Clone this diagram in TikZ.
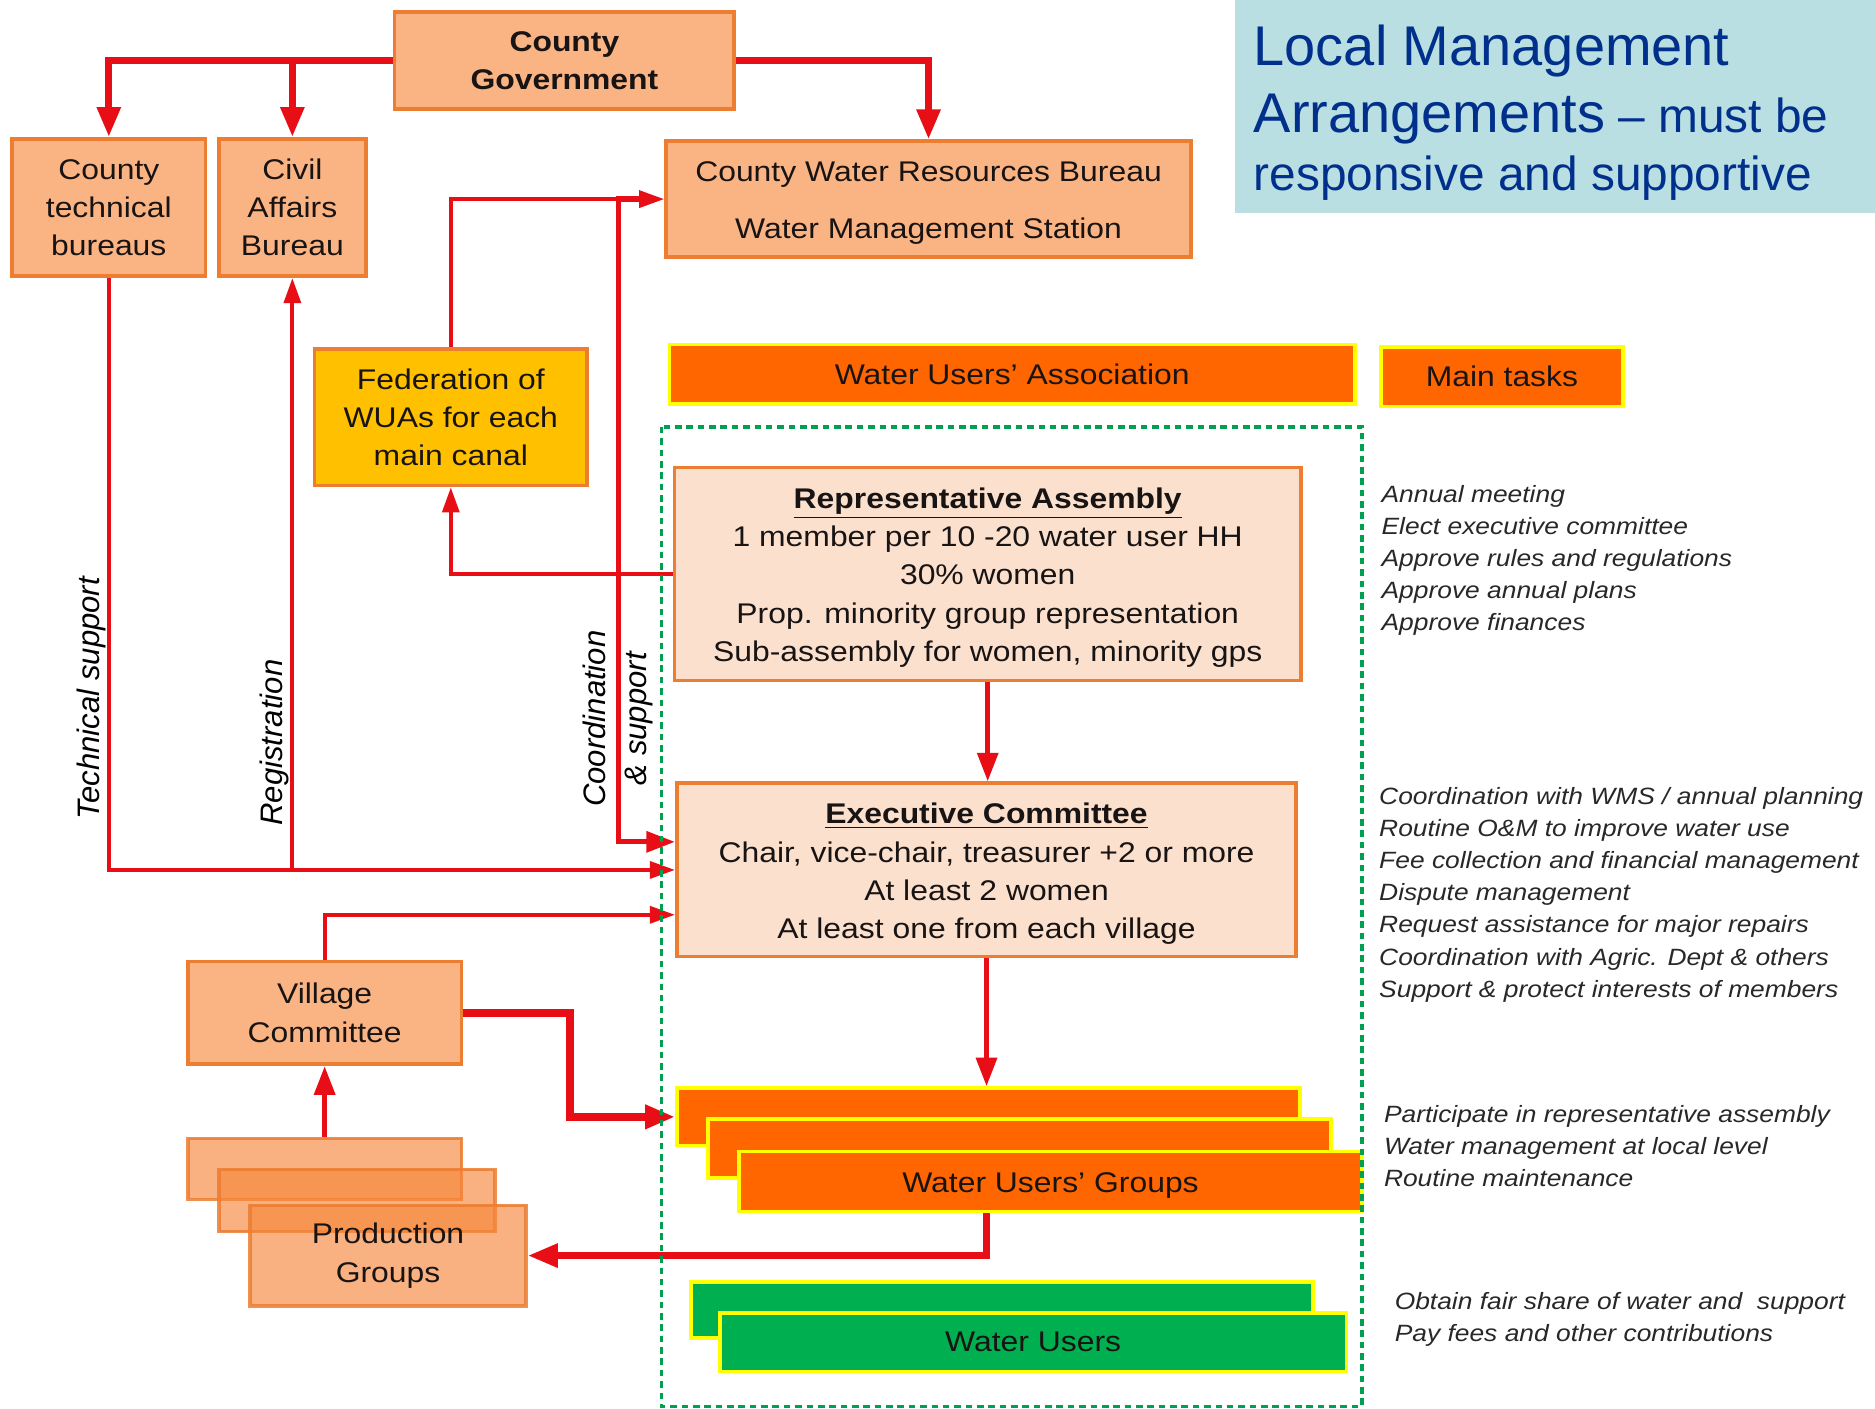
\documentclass[tikz,border=0pt]{standalone}
\usepackage{fontspec}
\setmainfont{Liberation Sans}
\newfontfamily\dfont[FakeStretch=1.12]{Liberation Sans}
\usetikzlibrary{arrows.meta,calc}
\definecolor{boxfill}{RGB}{250,180,132}
\definecolor{boxline}{RGB}{237,125,49}
\definecolor{peach}{RGB}{252,224,206}
\definecolor{gold}{RGB}{255,192,0}
\definecolor{barorange}{RGB}{255,102,0}
\definecolor{baryellow}{RGB}{255,255,0}
\definecolor{bargreen}{RGB}{0,176,80}
\definecolor{conred}{RGB}{232,14,22}
\definecolor{dotgreen}{RGB}{0,160,80}
\definecolor{titlebg}{RGB}{186,223,227}
\definecolor{titleblue}{RGB}{0,48,140}
\definecolor{txt}{RGB}{25,20,20}
\definecolor{tasktxt}{RGB}{40,40,40}
\definecolor{pgfill}{RGB}{247,134,58}
\begin{document}
\begin{tikzpicture}[x=0.5pt,y=-0.5pt,
  boxtext/.style={font=\dfont\fontsize{11.9}{16}\selectfont, text=txt, align=center, inner sep=0pt},
  obox/.style={boxtext, draw=boxline, line width=1.5pt, fill=boxfill},
  pbox/.style={boxtext, draw=boxline, line width=1.5pt, fill=peach},
  fbox/.style={boxtext, draw=boxline, line width=1.5pt, fill=gold},
  ybar/.style={boxtext, draw=baryellow, line width=1.5pt, fill=barorange},
  gbar/.style={boxtext, draw=baryellow, line width=1.5pt, fill=bargreen},
  pgbox/.style={boxtext, draw=boxline, draw opacity=0.85, line width=1.5pt, fill=pgfill, fill opacity=0.64, text opacity=1},
  tasks/.style={font=\dfont\itshape\fontsize{9.85}{13.4}\selectfont, text=tasktxt, align=left, inner sep=0pt, anchor=base west},
  vlabel/.style={font=\itshape\fontsize{13}{17}\selectfont, text=black, align=center, rotate=90, inner sep=0pt},
  conthin/.style={draw=conred, line width=1.7pt, -{Triangle[length=10.5pt,width=7pt]}},
  conmid/.style={draw=conred, line width=2.2pt, -{Triangle[length=12pt,width=8.5pt]}},
  conthick/.style={draw=conred, line width=2.8pt, -{Triangle[length=12.5pt,width=9.5pt]}},
  titletext/.style={text=titleblue, inner sep=0pt, anchor=base west}
]
\fill[white] (0,0) rectangle (1568,1178);
\useasboundingbox (0,0) rectangle (1568,1178);

% title
\node[fill=titlebg, minimum width=268pt, minimum height=89pt, inner sep=0pt, anchor=north west] (TB) at (1032,0) {};
\node[titletext, font=\fontsize{23.4}{28}\selectfont] (t1) at (1048,55) {Local Management};
\node[titletext] (t2) at (1048,110.5) {\fontsize{23.4}{28}\selectfont Arrangements\fontsize{20}{24}\selectfont{} – must be};
\node[titletext, font=\fontsize{20}{24}\selectfont] (t3) at (1048,159) {responsive and supportive};

% government boxes
\node[obox, font=\dfont\bfseries\fontsize{11.9}{16}\selectfont, minimum width=142pt, minimum height=40.5pt] (CG) at (472,50.5) {County\\Government};
\node[obox, minimum width=81pt, minimum height=57.5pt] (CTB) at (91,173.5) {County\\technical\\bureaus};
\node[obox, minimum width=61.5pt, minimum height=57.5pt] (CAB) at (244.5,173.5) {Civil\\Affairs\\Bureau};
\node[obox, font=\dfont\fontsize{11.9}{24}\selectfont, minimum width=219.5pt, minimum height=48.5pt] (WRB) at (776.5,166.5) {\rule{0pt}{11.5pt}County Water Resources Bureau\\Water Management Station};
\node[fbox, minimum width=114pt, minimum height=57pt] (Fed) at (377,349) {Federation of\\WUAs for each\\main canal};

% WUA
\node[ybar, minimum width=286.5pt, minimum height=25pt] (WUA) at (846.5,313) {Water Users’ Association};
\node[ybar, minimum width=101pt, minimum height=25pt] (MT) at (1256,315) {Main tasks};

\node[pbox, minimum width=262pt, minimum height=89pt] (RA) at (826,480) {\rule{0pt}{11.5pt}\underline{\textbf{Representative Assembly}}\\1 member per 10 -20 water user HH\\30\% women\\Prop. minority group representation\\Sub-assembly for women, minority gps};
\node[pbox, minimum width=259pt, minimum height=72.5pt] (EC) at (825,727.5) {\rule{0pt}{12pt}\underline{\textbf{Executive Committee}}\\Chair, vice-chair, treasurer +2 or more\\At least 2 women\\At least one from each village};

\node[ybar, minimum width=260.5pt, minimum height=24pt] (WUG1) at (826.5,934) {};
\node[ybar, minimum width=260.5pt, minimum height=24.5pt] (WUG2) at (852.5,960.5) {};
\node[ybar, minimum width=260.5pt, minimum height=25pt] (WUG3) at (878.5,988) {\rule{0pt}{11.5pt}Water Users’ Groups};

\node[gbar, minimum width=260pt, minimum height=23.5pt] (WU1) at (838,1095.5) {};
\node[gbar, minimum width=262pt, minimum height=24.5pt] (WU2) at (864,1122.5) {Water Users};

% village and production
\node[obox, minimum width=114.5pt, minimum height=43pt] (VC) at (271.5,847) {Village\\Committee};
\node[pgbox, minimum width=114.5pt, minimum height=25.5pt] (PG1) at (271.5,977.5) {};
\node[pgbox, minimum width=115.5pt, minimum height=26pt] (PG2) at (298.5,1004) {};
\node[pgbox, minimum width=115.5pt, minimum height=42pt] (PG3) at (324.5,1050) {Production\\Groups};

% tasks text (anchored at the baseline of the last line)
\node[tasks] (tRA) at (1155,527.2) {Annual meeting\\Elect executive committee\\Approve rules and regulations\\Approve annual plans\\Approve finances};
\node[tasks] (tEC) at (1153,833.8) {Coordination with WMS / annual planning\\Routine O\&M to improve water use\\Fee collection and financial management\\Dispute management\\Request assistance for major repairs\\Coordination with Agric. Dept \& others\\Support \& protect interests of members};
\node[tasks] (tWUG) at (1157,992.6) {Participate in representative assembly\\Water management at local level\\Routine maintenance};
\node[tasks] (tWU) at (1166,1121.8) {Obtain fair share of water and\ \ support\\Pay fees and other contributions};

% vertical labels
\node[vlabel] (lTS) at (76.5,584) {Technical support};
\node[vlabel] (lR) at (229.6,621) {Registration};
\node[vlabel] (lCS) at (517,601) {Coordination\\\& support};

% connectors
\draw[conthick] (CG.west) -| (CTB.north);
\draw[conthick] (CG.west -| CAB.north) -- (CAB.north);
\draw[conthick] (CG.east) -| (WRB.north);
\draw[conthin] (CTB.south) |- (EC.west);
\draw[conthin] (CAB.south |- EC.west) -- (CAB.south);
\draw[conthin] (Fed.north) |- (WRB.west);
\coordinate (cstop) at ($(WRB.west)+(-20,0)$);
\draw[conmid] (cstop) -| ($(EC.west)+(-47,-23.5)$) -- ($(EC.west)+(0,-23.5)$);
\draw[conthin] (RA.west) -| (Fed.south);
\draw[conmid] (RA.south) -- (RA.south |- EC.north);
\draw[conmid] (EC.south) -- (EC.south |- WUG1.north);
\draw[conthin] (VC.north) |- ($(EC.west)+(0,37.5)$);
\draw[conthick, line width=3.2pt] (VC.east) -- ++(89,0) |- (WUG1.west);
\draw[conthick] (EC.south |- WUG3.south) |- (PG3.east);
\draw[conmid] (PG1.north) -- (VC.south);

% WUA frame
\draw[dotgreen, line width=1.4pt, dash pattern=on 2.75pt off 2pt] (553,357) rectangle (1139,1176);
\end{tikzpicture}
\end{document}
